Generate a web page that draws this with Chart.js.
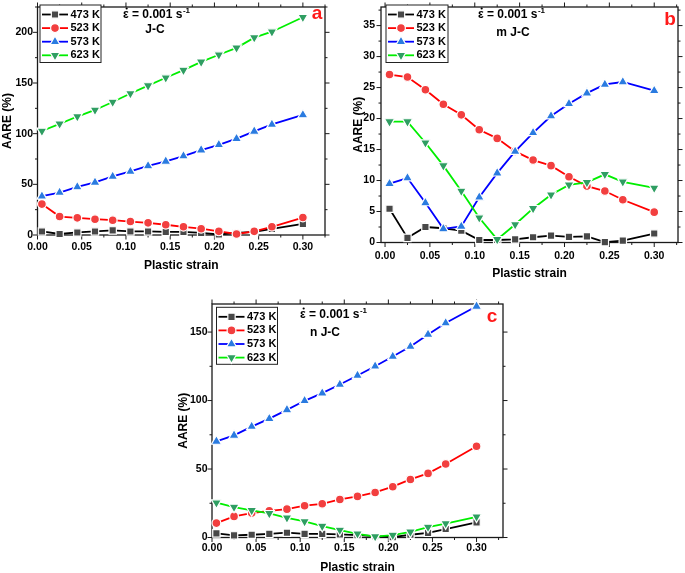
<!DOCTYPE html>
<html>
<head>
<meta charset="utf-8">
<script src="https://cdn.jsdelivr.net/npm/chart.js@4.4.1/dist/chart.umd.min.js"></script>
<style>
  html, body { margin: 0; padding: 0; background: #fff; overflow: hidden; width: 685px; height: 573px; }
  canvas { position: absolute; }
</style>
</head>
<body>
<canvas id="chartA"></canvas>
<canvas id="chartB"></canvas>
<canvas id="chartC"></canvas>
<script>
// AARE vs plastic strain at 0.001 s-1 : (a) J-C, (b) m J-C, (c) n J-C
const strain = [0.005, 0.025, 0.045, 0.065, 0.085, 0.105, 0.125, 0.145, 0.165, 0.185, 0.205, 0.225, 0.245, 0.265, 0.30];
const seriesNames = ['473 K', '523 K', '573 K', '623 K'];

// (a) J-C
const jc473 = [3.5, 1, 2.5, 3.5, 4.5, 3.5, 3.5, 3, 3, 2, 0.5, 2, 3, 6, 11];
const jc523 = [30.5, 18.2, 16.9, 15.6, 14.6, 13.3, 12, 10.1, 8.1, 6.2, 3.6, 1, 3.6, 8.1, 17.2];
const jc573 = [38.3, 41.9, 47.4, 51.9, 57.8, 62.7, 68.2, 72.7, 77.9, 83.8, 89, 95.1, 102.3, 109.1, 118.5];
const jc623 = [102.6, 109.7, 116.9, 123.4, 131.2, 139.6, 147.4, 155.2, 162.7, 170.8, 177.9, 184.7, 194.8, 200.6, 214.9];

// (b) m J-C
const mjc473 = [5.45, 0.75, 2.5, 2.3, 1.9, 0.4, 0.4, 0.5, 0.85, 1.1, 0.9, 1.0, 0.05, 0.3, 1.45];
const mjc523 = [27.1, 26.7, 24.65, 22.3, 20.6, 18.2, 16.8, 14.7, 13.3, 12.4, 10.6, 9.1, 8.3, 6.9, 4.9];
const mjc573 = [9.5, 10.4, 6.4, 2.2, 2.6, 7.3, 11.2, 14.7, 17.7, 20.4, 22.4, 24.1, 25.5, 25.9, 24.5];
const mjc623 = [19.5, 19.5, 16.1, 12.4, 8.3, 4.0, 0.5, 2.9, 5.5, 7.7, 9.3, 9.7, 11.0, 9.8, 8.8];

// (c) n J-C
const njc473 = [3, 1.5, 2, 2.7, 3.5, 2.7, 2.7, 2.3, 1.7, 1, 0.3, 2, 3.4, 6.2, 11];
const njc523 = [10.5, 15.4, 17.8, 19.5, 20.7, 23.2, 24.6, 27.8, 30, 32.9, 37.1, 42.4, 46.8, 53.7, 66.6];
const njc573 = [70.2, 74.6, 81, 86.8, 93.2, 99.8, 105.4, 111.7, 118.3, 125.1, 132.2, 139.5, 148.3, 156.6, 168.8];
const njc623 = [25.4, 22.2, 19.8, 17.6, 14.4, 11.7, 8.3, 5.4, 2.7, 0.7, 1.7, 4.1, 7.6, 10.2, 15.1];

const lineColors = ['#000000', '#ff0000', '#0000ff', '#00ee00'];
const pointColors = ['#484848', '#f23f3f', '#2a7be0', '#2f9e62'];
const pointStyles = ['rect', 'circle', 'triangle', 'triangle'];
const pointRot = [0, 0, 0, 180];
const pointRadii = [5.2, 4.4, 5.8, 5.8];

const FONT = '"Liberation Sans", Arial, sans-serif';

const panels = [
  { id: 'chartA', x0: 0, y0: 0, w: 340, h: 280,
    area: { left: 37.5, top: 4, right: 325, bottom: 235 },
    xMin: 0, xMax: 0.325, yMin: 0, yMax: 225, yStep: 50,
    xPad: 6, yPad: 4.5, xTitlePad: 7, yTitlePad: 0,
    series: [jc473, jc523, jc573, jc623],
    legend: { x: 40, y: 5, w: 61, h: 57.5 },
    rate: { x: 123, y: 15 }, model: { text: 'J-C', x: 155, y: 30 }, letter: { text: 'a', x: 317, y: 18.5 } },
  { id: 'chartB', x0: 340, y0: 0, w: 345, h: 290,
    area: { left: 41, top: 4, right: 341, bottom: 242.5 },
    xMin: -0.0045, xMax: 0.3265, yMin: 0, yMax: 38, yStep: 5,
    xPad: 7, yPad: 6, xTitlePad: 8.8, yTitlePad: 11.3,
    series: [mjc473, mjc523, mjc573, mjc623],
    legend: { x: 386, y: 5, w: 62, h: 57.5 },
    rate: { x: 478, y: 15 }, model: { text: 'm J-C', x: 513, y: 33 }, letter: { text: 'b', x: 670, y: 25 } },
  { id: 'chartC', x0: 170, y0: 290, w: 350, h: 293,
    area: { left: 42, top: 14, right: 333, bottom: 247.5 },
    xMin: 0, xMax: 0.33, yMin: 0, yMax: 170.5, yStep: 50,
    xPad: 4.5, yPad: 4.5, xTitlePad: 8.1, yTitlePad: 6.8,
    series: [njc473, njc523, njc573, njc623],
    legend: { x: 216.5, y: 307.3, w: 61, h: 57 },
    rate: { x: 300, y: 315 }, model: { text: 'n J-C', x: 325, y: 333 }, letter: { text: 'c', x: 492, y: 322 } }
];

// frame, mirrored outward ticks, legend box and annotations
const panelDecor = {
  id: 'panelDecor',
  beforeDatasetsDraw(chart, args, p) {
    const { ctx, chartArea: a, scales: { x, y } } = chart;
    ctx.save();
    ctx.strokeStyle = '#1a1a1a';
    ctx.lineWidth = 1.3;
    ctx.strokeRect(a.left, a.top, a.right - a.left, a.bottom - a.top);
    ctx.lineWidth = 1;
    ctx.beginPath();
    for (let i = 0; 0.025 * i <= p.xMax + 1e-9; i++) {
      const px = x.getPixelForValue(0.025 * i);
      const len = i % 2 === 0 ? 4.5 : 2.5;
      ctx.moveTo(px, a.bottom); ctx.lineTo(px, a.bottom + len);
      ctx.moveTo(px, a.top); ctx.lineTo(px, a.top - len);
    }
    for (let i = 0; (p.yStep / 2) * i <= p.yMax + 1e-9; i++) {
      const py = y.getPixelForValue((p.yStep / 2) * i);
      const len = i % 2 === 0 ? 4.5 : 2.5;
      ctx.moveTo(a.left, py); ctx.lineTo(a.left - len, py);
      ctx.moveTo(a.right, py); ctx.lineTo(a.right + len, py);
    }
    ctx.stroke();
    ctx.restore();
  },
  afterDraw(chart, args, p) {
    const ctx = chart.ctx;
    const ox = p.x0, oy = p.y0;
    ctx.save();
    // legend
    const L = p.legend;
    const lx = L.x - ox, ly = L.y - oy;
    ctx.fillStyle = '#fff';
    ctx.fillRect(lx, ly, L.w, L.h);
    ctx.strokeStyle = '#222';
    ctx.lineWidth = 1;
    ctx.strokeRect(lx, ly, L.w, L.h);
    chart.data.datasets.forEach((ds, i) => {
      const ry = ly + 9.5 + i * 13.6;
      ctx.strokeStyle = ds.borderColor;
      ctx.lineWidth = 1.8;
      ctx.beginPath();
      ctx.moveTo(lx + 2, ry); ctx.lineTo(lx + 28, ry);
      ctx.stroke();
      ctx.fillStyle = ds.pointBackgroundColor;
      ctx.strokeStyle = '#fff';
      ctx.lineWidth = 1.2;
      Chart.helpers.drawPoint(ctx, { pointStyle: ds.pointStyle, rotation: ds.pointRotation, radius: ds.pointRadius, borderWidth: 1.2 }, lx + 15, ry);
      ctx.fillStyle = '#000';
      ctx.font = 'bold 11px ' + FONT;
      ctx.textAlign = 'left';
      ctx.textBaseline = 'middle';
      ctx.fillText(ds.label, lx + 30.5, ry);
    });
    // strain rate: epsilon with a dot above
    ctx.fillStyle = '#000';
    ctx.font = 'bold 12px ' + FONT;
    ctx.textAlign = 'left';
    ctx.textBaseline = 'middle';
    const rx = p.rate.x - ox, ryy = p.rate.y - oy;
    const eps = '\u03B5';
    ctx.fillText(eps, rx, ryy);
    const ew = ctx.measureText(eps).width;
    ctx.beginPath();
    ctx.arc(rx + ew / 2 + 0.8, ryy - 6.5, 1.1, 0, Math.PI * 2);
    ctx.fill();
    const main = ' = 0.001 s';
    ctx.fillText(main, rx + ew, ryy);
    const mw = ctx.measureText(main).width;
    ctx.font = 'bold 8px ' + FONT;
    ctx.fillText('-1', rx + ew + mw + 0.5, ryy - 4);
    // model name
    ctx.font = 'bold 12px ' + FONT;
    ctx.textAlign = 'center';
    ctx.fillText(p.model.text, p.model.x - ox, p.model.y - oy);
    // panel letter
    ctx.fillStyle = '#ff1a1a';
    ctx.font = 'bold 19px ' + FONT;
    ctx.textBaseline = 'alphabetic';
    ctx.fillText(p.letter.text, p.letter.x - ox, p.letter.y - oy);
    ctx.restore();
  }
};

function zeroPadding(s) {
  s.paddingTop = 0; s.paddingBottom = 0; s.paddingLeft = 0; s.paddingRight = 0;
}

function makeChart(p) {
  const cv = document.getElementById(p.id);
  cv.width = p.w; cv.height = p.h;
  cv.style.left = p.x0 + 'px';
  cv.style.top = p.y0 + 'px';
  cv.style.width = p.w + 'px';
  cv.style.height = p.h + 'px';
  return new Chart(cv, {
    type: 'line',
    data: {
      datasets: p.series.map((vals, i) => ({
        label: seriesNames[i],
        data: strain.map((s, k) => ({ x: s, y: vals[k] })),
        borderColor: lineColors[i],
        backgroundColor: pointColors[i],
        pointBackgroundColor: pointColors[i],
        pointBorderColor: '#ffffff',
        pointBorderWidth: 1.2,
        pointStyle: pointStyles[i],
        pointRotation: pointRot[i],
        pointRadius: pointRadii[i],
        borderWidth: 1.8,
        tension: 0,
        clip: false,
        order: 4 - i
      }))
    },
    options: {
      responsive: false,
      animation: false,
      events: [],
      layout: { padding: { left: 0, top: p.area.top, right: p.w - p.area.right, bottom: 0 } },
      plugins: { legend: { display: false }, tooltip: { enabled: false }, panelDecor: p },
      scales: {
        x: {
          type: 'linear', min: p.xMin, max: p.xMax,
          grid: { display: false, drawTicks: false },
          border: { display: false },
          ticks: { stepSize: 0.05, includeBounds: false, padding: p.xPad, color: '#000',
                   font: { family: FONT, size: 10.5, weight: 'bold' }, maxRotation: 0,
                   callback: v => v.toFixed(2) },
          title: { display: true, text: 'Plastic strain', color: '#000',
                   font: { family: FONT, size: 12, weight: 'bold' }, padding: { top: 0, bottom: p.xTitlePad } },
          afterFit: s => { s.height = p.h - p.area.bottom; zeroPadding(s); }
        },
        y: {
          type: 'linear', min: p.yMin, max: p.yMax,
          grid: { display: false, drawTicks: false },
          border: { display: false },
          ticks: { stepSize: p.yStep, includeBounds: false, padding: p.yPad, color: '#000',
                   font: { family: FONT, size: 10.5, weight: 'bold' } },
          title: { display: true, text: 'AARE (%)', color: '#000',
                   font: { family: FONT, size: 12, weight: 'bold' }, padding: { top: p.yTitlePad, bottom: 0 } },
          afterFit: s => { s.width = p.area.left; zeroPadding(s); }
        }
      }
    },
    plugins: [panelDecor]
  });
}

panels.forEach(makeChart);
</script>
</body>
</html>
